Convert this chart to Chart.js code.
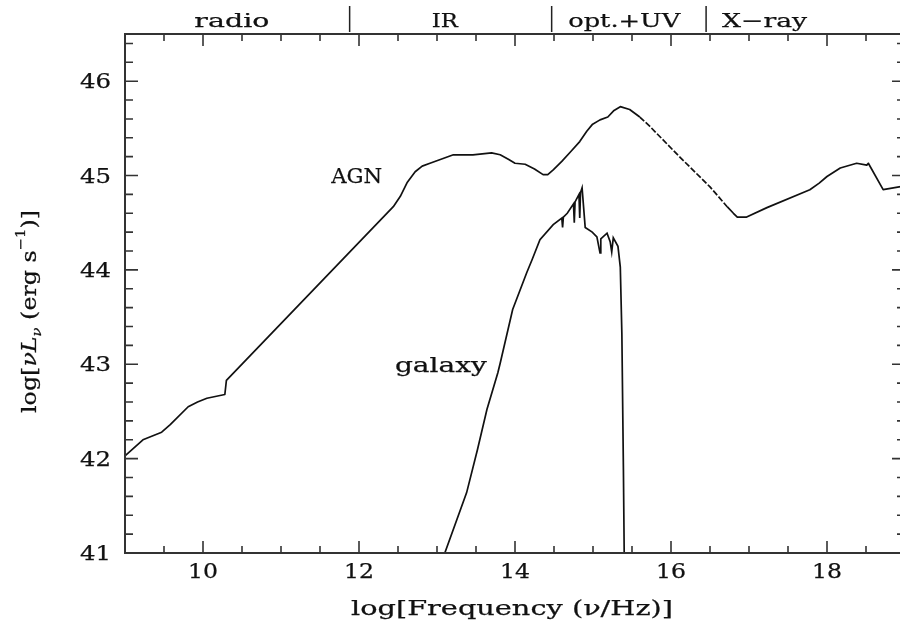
<!DOCTYPE html>
<html>
<head>
<meta charset="utf-8">
<script src="https://cdn.jsdelivr.net/npm/chart.js@4.4.1/dist/chart.umd.min.js"></script>
<style>
    html, body { margin: 0; padding: 0; background: #fff; overflow: hidden; }
    #wrap { width: 906px; height: 626px; }
</style>
</head>
<body>
<div id="wrap"><canvas id="sed" width="906" height="626"></canvas></div>
<script>
// AGN spectral energy distribution
const agnLogNu = [9.0, 9.23, 9.47, 9.58, 9.81, 9.93, 10.05, 10.28, 10.3, 12.44, 12.53, 12.62, 12.72, 12.81, 12.91,
    13.21, 13.46, 13.7, 13.81, 13.92, 14.0, 14.13, 14.25, 14.36, 14.42, 14.49, 14.6, 14.71, 14.83, 14.92, 14.99, 15.09, 15.19,
    15.27, 15.35, 15.47, 15.6, 15.73, 16.12, 16.5, 16.72, 16.8, 16.85, 16.97, 17.23, 17.78, 17.9, 18.0, 18.17, 18.38,
    18.51, 18.53, 18.72, 19.0];
const agnLogL = [42.03, 42.2, 42.28, 42.36, 42.55, 42.6, 42.64, 42.68, 42.83, 44.67, 44.78, 44.93, 45.04, 45.1, 45.13,
    45.22, 45.22, 45.24, 45.22, 45.17, 45.13, 45.12, 45.07, 45.01, 45.01, 45.06, 45.15, 45.25, 45.36, 45.47, 45.54, 45.59, 45.62,
    45.69, 45.73, 45.7, 45.62, 45.52, 45.19, 44.88, 44.67, 44.6, 44.56, 44.56, 44.66, 44.85, 44.92, 44.99, 45.08, 45.13,
    45.11, 45.13, 44.85, 44.89];

// galaxy spectrum
const galaxyLogNu = [13.1, 13.38, 13.52, 13.64, 13.78, 13.81, 13.97, 14.15, 14.22, 14.32, 14.49, 14.6, 14.61,
    14.62, 14.67, 14.75, 14.76, 14.77, 14.82, 14.83, 14.84, 14.86, 14.9, 14.99, 15.05, 15.09,
    15.1, 15.18, 15.22, 15.24, 15.26, 15.32, 15.35, 15.37, 15.39, 15.4];
const galaxyLogL = [41.0, 41.64, 42.1, 42.52, 42.91, 43.01, 43.58, 43.97, 44.11, 44.32, 44.48, 44.55, 44.45,
    44.56, 44.6, 44.7, 44.5, 44.72, 44.8, 44.55, 44.82, 44.87, 44.45, 44.4, 44.35, 44.18,
    44.33, 44.39, 44.3, 44.19, 44.34, 44.25, 44.03, 43.33, 41.88, 41.0];

const xTickValues = [10, 12, 14, 16, 18];
const yTickValues = [41, 42, 43, 44, 45, 46];

const bandNames = ['radio', 'IR', 'opt.+UV', 'X\u2212ray'];
const bandCenters = [10.37, 13.1, 15.4, 17.2];
const bandEdges = [11.88, 14.47, 16.45];

const curveLabels = ['AGN', 'galaxy'];
const curveLabelX = [11.97, 13.05];
const curveLabelY = [44.92, 42.92];

const SERIF = '"DejaVu Serif", "Liberation Serif", serif';
const INK = '#111';

function toPoints(xs, ys) {
    return xs.map((x, i) => ({ x: x, y: ys[i] }));
}

// draws text stretched horizontally so it fills a given width (or by a fixed factor)
function stretchedText(ctx, text, x, y, opts) {
    ctx.save();
    ctx.font = opts.font;
    const w = ctx.measureText(text).width;
    const sx = opts.width ? opts.width / w : (opts.sx || 1);
    ctx.translate(x, y);
    ctx.scale(sx, 1);
    ctx.textBaseline = 'alphabetic';
    ctx.textAlign = opts.align || 'center';
    ctx.fillStyle = INK;
    ctx.strokeStyle = INK;
    ctx.lineWidth = 0.25;
    ctx.fillText(text, 0, 0);
    ctx.strokeText(text, 0, 0);
    ctx.restore();
}

const framePlugin = {
    id: 'frame',
    afterDraw(chart) {
        const ctx = chart.ctx;
        const area = chart.chartArea;
        const xs = chart.scales.x;
        const ys = chart.scales.y;

        ctx.save();
        ctx.strokeStyle = '#333';
        ctx.lineWidth = 2;
        ctx.strokeRect(area.left, area.top, area.right - area.left, area.bottom - area.top);

        // inward ticks on all four sides
        ctx.lineWidth = 1.6;
        ctx.beginPath();
        for (let v = 9.5; v < 19; v += 0.5) {
            const px = xs.getPixelForValue(v);
            const len = (Math.abs(v % 2) < 1e-6) ? 12 : 7;
            ctx.moveTo(px, area.bottom); ctx.lineTo(px, area.bottom - len);
            ctx.moveTo(px, area.top); ctx.lineTo(px, area.top + len);
        }
        for (let i = 1; i < 28; i++) {
            const v = 41 + i * 0.2;
            const py = ys.getPixelForValue(v);
            const len = (i % 5 === 0) ? 13 : 8;
            ctx.moveTo(area.left, py); ctx.lineTo(area.left + len, py);
            ctx.moveTo(area.right, py); ctx.lineTo(area.right - len, py);
        }
        ctx.stroke();

        // tick labels
        xTickValues.forEach(v => {
            stretchedText(ctx, String(v), xs.getPixelForValue(v), 578, { font: '20px ' + SERIF, sx: 1.18 });
        });
        yTickValues.forEach(v => {
            stretchedText(ctx, String(v), 111, ys.getPixelForValue(v) + 7, { font: '20px ' + SERIF, sx: 1.22, align: 'right' });
        });

        // x axis title
        stretchedText(ctx, 'log[Frequency (\u03bd/Hz)]', (area.left + area.right) / 2 - 3, 615,
            { font: '21px ' + SERIF, width: 322 });

        // band labels above the frame
        const bandWidths = [75, 26, 112, 85];
        bandNames.forEach((name, i) => {
            stretchedText(ctx, name, xs.getPixelForValue(bandCenters[i]), 27,
                { font: '19px ' + SERIF, width: bandWidths[i] });
        });
        ctx.strokeStyle = '#222';
        ctx.lineWidth = 1.5;
        ctx.beginPath();
        bandEdges.forEach(v => {
            const px = xs.getPixelForValue(v);
            ctx.moveTo(px, 6); ctx.lineTo(px, 32);
        });
        ctx.stroke();

        // curve labels
        const labelWidths = [51, 92];
        curveLabels.forEach((name, i) => {
            stretchedText(ctx, name, xs.getPixelForValue(curveLabelX[i]), ys.getPixelForValue(curveLabelY[i]),
                { font: '21px ' + SERIF, width: labelWidths[i] });
        });

        // y axis title, rotated, with sub/superscripts
        const pieces = [
            { t: 'log[', f: '21px ' + SERIF, dy: 0 },
            { t: '\u03bd', f: 'italic 21px ' + SERIF, dy: 0 },
            { t: 'L', f: 'italic 21px ' + SERIF, dy: 0 },
            { t: '\u03bd', f: 'italic 13px ' + SERIF, dy: 5 },
            { t: ' (erg s', f: '21px ' + SERIF, dy: 0 },
            { t: '\u22121', f: '13px ' + SERIF, dy: -11 },
            { t: ')]', f: '21px ' + SERIF, dy: 0 }
        ];
        let total = 0;
        pieces.forEach(p => { ctx.font = p.f; p.w = ctx.measureText(p.t).width; total += p.w; });
        const sx = 203 / total;
        ctx.translate(36, 413);
        ctx.rotate(-Math.PI / 2);
        ctx.scale(sx, 1);
        ctx.fillStyle = INK;
        ctx.strokeStyle = INK;
        ctx.lineWidth = 0.25;
        ctx.textAlign = 'left';
        ctx.textBaseline = 'alphabetic';
        let cx = 0;
        pieces.forEach(p => {
            ctx.font = p.f;
            ctx.fillText(p.t, cx, p.dy);
            ctx.strokeText(p.t, cx, p.dy);
            cx += p.w;
        });
        ctx.restore();
    }
};

const ctx = document.getElementById('sed').getContext('2d');
const sedChart = new Chart(ctx, {
    type: 'line',
    data: {
        datasets: [
            {
                label: 'AGN',
                data: toPoints(agnLogNu, agnLogL),
                borderColor: INK,
                borderWidth: 1.7,
                pointRadius: 0,
                tension: 0,
                borderJoinStyle: 'round',
                fill: false,
                segment: {
                    borderDash: c => (c.p0.parsed.x >= 15.6 && c.p1.parsed.x <= 16.75) ? [6, 2] : undefined
                }
            },
            {
                label: 'galaxy',
                data: toPoints(galaxyLogNu, galaxyLogL),
                borderColor: INK,
                borderWidth: 1.7,
                pointRadius: 0,
                tension: 0,
                fill: false
            }
        ]
    },
    options: {
        responsive: false,
        animation: false,
        devicePixelRatio: 1,
        layout: { padding: { left: 125, top: 34, right: 1, bottom: 73 } },
        scales: {
            x: { type: 'linear', min: 9, max: 19, display: false },
            y: { type: 'linear', min: 41, max: 46.5, display: false }
        },
        plugins: {
            legend: { display: false },
            tooltip: { enabled: false }
        }
    },
    plugins: [framePlugin]
});
</script>
</body>
</html>
